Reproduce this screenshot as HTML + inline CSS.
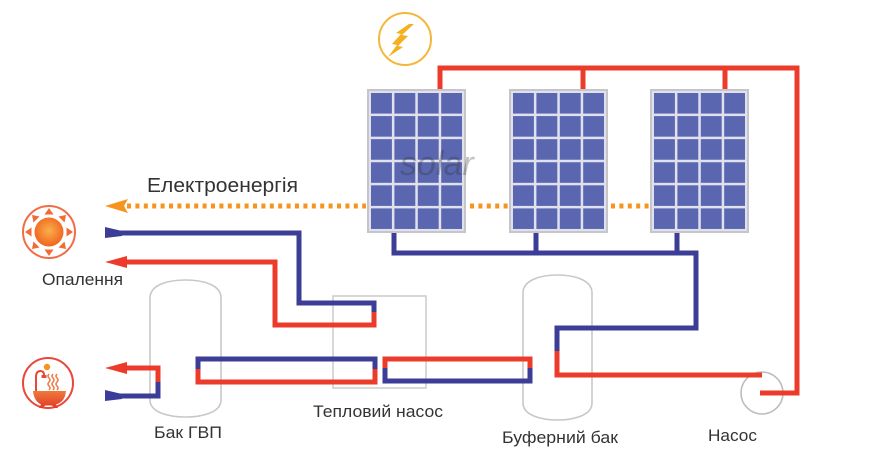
<!DOCTYPE html>
<html><head><meta charset="utf-8">
<style>
html,body{margin:0;padding:0;background:#fff;}
svg{display:block;}
text{font-family:"Liberation Sans",Arial,sans-serif;fill:#333;}
</style></head>
<body>
<svg width="875" height="450" viewBox="0 0 875 450" xmlns="http://www.w3.org/2000/svg">
<defs>
  <pattern id="cells" patternUnits="userSpaceOnUse" x="3" y="3" width="23.4" height="23.08">
    <rect x="0" y="0" width="20.9" height="20.58" fill="#5a66af"/>
  </pattern>
  <radialGradient id="sun" cx="50%" cy="45%" r="55%">
    <stop offset="0" stop-color="#f9b04a"/>
    <stop offset="1" stop-color="#f0641f"/>
  </radialGradient>
  <linearGradient id="tub" x1="0" y1="0" x2="0" y2="1">
    <stop offset="0" stop-color="#f07a3a"/>
    <stop offset="1" stop-color="#e03a2a"/>
  </linearGradient>
  <g id="panel">
    <rect x="0" y="0" width="97" height="142" fill="#dfe1ee" stroke="#c6c6ca" stroke-width="2"/>
    <rect x="3" y="3" width="91" height="136" fill="url(#cells)"/>
  </g>
</defs>

<!-- lightning icon -->
<circle cx="405" cy="39" r="26" fill="none" stroke="#f4b73a" stroke-width="2"/>
<polygon points="414,24 402,35 408,36 398,46 403,47 388,57 397,45 392,44 401,34 396,33 409,24" fill="#f5b020"/>

<!-- tanks & heat pump box -->
<path d="M150 298 C150 284 170 280 185.5 280 C201 280 221 284 221 298 V400 C221 413 201 417 185.5 417 C170 417 150 413 150 400 Z" fill="none" stroke="#c8c8c8" stroke-width="1.6"/>
<path d="M523 293 C523 279 543 275 557.5 275 C572 275 592 279 592 293 V403 C592 416 572 420 557.5 420 C543 420 523 416 523 403 Z" fill="none" stroke="#c8c8c8" stroke-width="1.6"/>
<rect x="333" y="296" width="93" height="92" fill="none" stroke="#c8c8c8" stroke-width="1.4"/>

<!-- pump -->
<circle cx="762" cy="393" r="21" fill="none" stroke="#bdbdbd" stroke-width="1.6"/>

<!-- red solar line -->
<g fill="none" stroke="#ec3b2b" stroke-width="5" stroke-linejoin="miter">
  <path d="M440 91 V68 H797 V393 H760"/>
  <path d="M583 91 V68"/>
  <path d="M725 91 V68"/>
  <path d="M557 350 V375 H762"/>
</g>
<!-- blue solar line -->
<g fill="none" stroke="#3b3d96" stroke-width="5">
  <path d="M394 232 V253 H696 V328 H557 V351"/>
  <path d="M536 232 V253"/>
  <path d="M677 232 V253"/>
</g>

<!-- panels -->
<use href="#panel" x="368" y="90"/>
<use href="#panel" x="510" y="90"/>
<use href="#panel" x="651" y="90"/>

<!-- watermark (faint) -->
<text x="400" y="175" font-size="34" font-style="italic" fill="#ffffff" fill-opacity="0.3" font-family="Liberation Serif, serif">solar</text>

<!-- orange dotted electricity -->
<g stroke="#f7941d" stroke-width="5" fill="none">
  <path d="M127 206 H366" stroke-dasharray="4 4.4"/>
  <path d="M470 206 H510" stroke-dasharray="4 4.4"/>
  <path d="M611 206 H651" stroke-dasharray="4 4.4"/>
</g>
<polygon points="105,206 128,199 124,206 128,213" fill="#f7941d"/>

<!-- heating circuit -->
<g fill="none" stroke-width="5">
  <path d="M112 233 H299 V303 H374 V314" stroke="#3b3d96"/>
  <path d="M374 312 V325 H275 V262 H122" stroke="#ec3b2b"/>
</g>
<polygon points="105,227 122,231 122,236 105,238" fill="#3b3d96"/>
<polygon points="105,262 127,256 127,268" fill="#ec3b2b"/>

<!-- DHW circuit -->
<g fill="none" stroke-width="5">
  <path d="M122 368 H158 V384" stroke="#ec3b2b"/>
  <path d="M158 382 V396 H112" stroke="#3b3d96"/>
</g>
<polygon points="105,368 127,362 127,374" fill="#ec3b2b"/>
<polygon points="105,390 122,394 122,399 105,401" fill="#3b3d96"/>

<!-- loop 1 -->
<g fill="none" stroke-width="5">
  <path d="M198 371 V359 H375 V371" stroke="#3b3d96"/>
  <path d="M198 369 V382 H375 V369" stroke="#ec3b2b"/>
</g>
<!-- loop 2 -->
<g fill="none" stroke-width="5">
  <path d="M385 370 V359 H530 V370" stroke="#ec3b2b"/>
  <path d="M385 368 V381 H530 V368" stroke="#3b3d96"/>
</g>

<!-- heating icon -->
<circle cx="49" cy="232" r="26" fill="none" stroke="#f26d45" stroke-width="2"/>
<circle cx="49" cy="232" r="14.5" fill="url(#sun)"/>
<g fill="#f26a35">
  <polygon points="49,208 44.5,214.5 53.5,214.5"/>
  <polygon points="49,256 44.5,249.5 53.5,249.5"/>
  <polygon points="25,232 31.5,227.5 31.5,236.5"/>
  <polygon points="73,232 66.5,227.5 66.5,236.5"/>
  <polygon points="32,215 39.5,216.5 33.5,222.5"/>
  <polygon points="66,215 58.5,216.5 64.5,222.5"/>
  <polygon points="32,249 39.5,247.5 33.5,241.5"/>
  <polygon points="66,249 58.5,247.5 64.5,241.5"/>
</g>

<!-- bath icon -->
<circle cx="48" cy="383" r="25" fill="none" stroke="#e8483a" stroke-width="2"/>
<circle cx="47" cy="367" r="3.2" fill="#f7941d"/>
<path d="M36 392 V377 Q36 371 40.5 371 Q44 371 44 375" fill="none" stroke="#e8483a" stroke-width="2"/>
<path d="M41.5 375 h5 v3 h-5z" fill="#e8483a"/>
<g fill="none" stroke="#ef7a4a" stroke-width="1.5">
  <path d="M49 374 q-2 2 0 4 q2 2 0 4 q-2 2 0 4 q2 2 0 4"/>
  <path d="M53 374 q-2 2 0 4 q2 2 0 4 q-2 2 0 4 q2 2 0 4"/>
  <path d="M57 374 q-2 2 0 4 q2 2 0 4 q-2 2 0 4 q2 2 0 4"/>
</g>
<path d="M33 391 H66 Q65 402 56 404.5 L58 408 H54 L52 405.5 H45 L43 408 H39 L41 404.5 Q34 401 33 391 Z" fill="url(#tub)"/>

<!-- labels -->
<text x="147" y="192" font-size="20" textLength="151" lengthAdjust="spacingAndGlyphs">Електроенергія</text>
<text x="42" y="285" font-size="17" textLength="81" lengthAdjust="spacingAndGlyphs">Опалення</text>
<text x="154" y="438" font-size="17" textLength="68" lengthAdjust="spacingAndGlyphs">Бак ГВП</text>
<text x="313" y="417" font-size="17" textLength="130" lengthAdjust="spacingAndGlyphs">Тепловий насос</text>
<text x="502" y="443" font-size="17" textLength="116" lengthAdjust="spacingAndGlyphs">Буферний бак</text>
<text x="708" y="441" font-size="17" textLength="49" lengthAdjust="spacingAndGlyphs">Насос</text>
</svg>
</body></html>
